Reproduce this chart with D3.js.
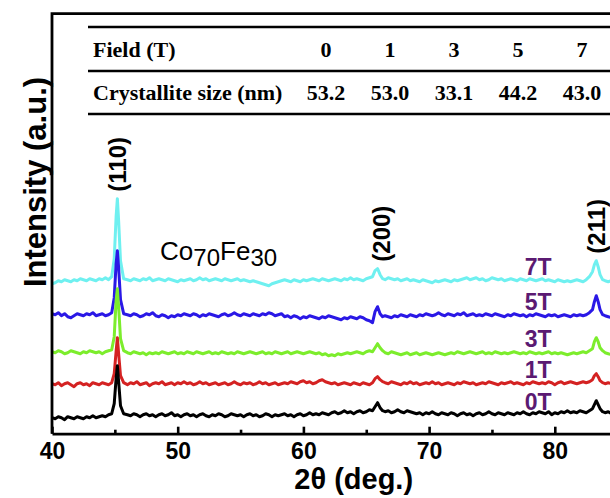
<!DOCTYPE html>
<html>
<head>
<meta charset="utf-8">
<script src="https://cdn.jsdelivr.net/npm/d3@7"></script>
<style>
  body { margin: 0; background: #fff; }
  svg text { font-family: "Liberation Sans", Arial, sans-serif; }
</style>
</head>
<body>
<div class="chart_view"></div>
<script>
// 2theta grid (deg.), denser around the three reflections
var twoTheta = [
  40, 40.25, 40.5, 40.75, 41, 41.25, 41.5, 41.75, 42, 42.25,
  42.5, 42.75, 43, 43.25, 43.5, 43.75, 44, 44.25, 44.5, 44.75,
  44.95, 45.1, 45.2, 45.3, 45.45, 45.7,
  46, 46.25, 46.5, 46.75, 47, 47.25, 47.5, 47.75, 48, 48.25,
  48.5, 48.75, 49, 49.25, 49.5, 49.75, 50, 50.25, 50.5, 50.75,
  51, 51.25, 51.5, 51.75, 52, 52.25, 52.5, 52.75, 53, 53.25,
  53.5, 53.75, 54, 54.25, 54.5, 54.75, 55, 55.25, 55.5, 55.75,
  56, 56.25, 56.5, 56.75, 57, 57.25, 57.5, 57.75, 58, 58.25,
  58.5, 58.75, 59, 59.25, 59.5, 59.75, 60, 60.25, 60.5, 60.75,
  61, 61.25, 61.5, 61.75, 62, 62.25, 62.5, 62.75, 63, 63.25,
  63.5, 63.75, 64, 64.25, 64.5, 64.75, 65, 65.25, 65.5,
  65.7, 65.9, 66.1, 66.3,
  66.5, 66.75, 67, 67.25, 67.5, 67.75, 68, 68.25, 68.5, 68.75,
  69, 69.25, 69.5, 69.75, 70, 70.25, 70.5, 70.75, 71, 71.25,
  71.5, 71.75, 72, 72.25, 72.5, 72.75, 73, 73.25, 73.5, 73.75,
  74, 74.25, 74.5, 74.75, 75, 75.25, 75.5, 75.75, 76, 76.25,
  76.5, 76.75, 77, 77.25, 77.5, 77.75, 78, 78.25, 78.5, 78.75,
  79, 79.25, 79.5, 79.75, 80, 80.25, 80.5, 80.75, 81, 81.25,
  81.5, 81.75, 82, 82.25, 82.5, 82.75, 83,
  83.15, 83.3, 83.45, 83.6, 83.8,
  84, 84.25, 84.5, 84.75, 85
];

var int0T = [
  16, 15, 17, 16, 14, 17, 16, 15, 17, 16,
  15, 17, 16, 18, 16, 17, 18, 17, 19, 20,
  30, 55, 68, 52, 28, 20,
  19, 18, 20, 19, 17, 19, 20, 18, 19, 17,
  19, 20, 18, 19, 21, 18, 19, 17, 19, 20,
  18, 19, 17, 19, 20, 18, 17, 19, 18, 20,
  19, 17, 18, 20, 19, 18, 19, 17, 19, 20,
  18, 19, 17, 18, 20, 19, 17, 19, 18, 19,
  20, 18, 19, 17, 19, 20, 18, 19, 21, 19,
  20, 19, 21, 20, 19, 21, 22, 20, 21, 23,
  21, 22, 20, 22, 23, 21, 22, 24, 23,
  27, 31, 26, 23,
  22, 23, 21, 22, 24, 22, 21, 23, 22, 21,
  20, 21, 19, 21, 20, 22, 20, 19, 21, 20,
  19, 21, 20, 18, 20, 21, 19, 20, 18, 20,
  21, 19, 20, 22, 20, 19, 21, 20, 19, 21,
  20, 19, 21, 20, 22, 20, 19, 21, 20, 22,
  21, 20, 22, 19, 21, 20, 22, 21, 23, 21,
  22, 21, 23, 22, 21, 23, 25,
  29, 33, 29, 25, 22,
  21, 22, 20, 21, 20
];

var int1T = [
  18, 17, 19, 16, 18, 19, 17, 15, 18, 19,
  17, 18, 16, 19, 18, 17, 19, 18, 17, 19,
  28, 50, 64, 48, 26, 19,
  17, 19, 18, 20, 17, 18, 19, 16, 18, 19,
  18, 20, 17, 18, 19, 17, 19, 18, 20, 18,
  19, 17, 18, 20, 18, 19, 17, 18, 19, 17,
  18, 19, 17, 18, 20, 18, 17, 19, 18, 19,
  17, 18, 20, 18, 19, 17, 18, 19, 17, 18,
  19, 18, 20, 19, 18, 20, 21, 19, 20, 18,
  19, 21, 22, 20, 19, 18, 19, 17, 18, 19,
  18, 17, 19, 18, 17, 19, 18, 17, 19,
  23, 25, 22, 20,
  19, 18, 20, 19, 18, 17, 19, 18, 20, 18,
  19, 17, 18, 19, 18, 20, 18, 19, 17, 18,
  19, 18, 17, 19, 18, 20, 19, 18, 19, 17,
  18, 19, 18, 20, 19, 18, 17, 19, 18, 19,
  20, 18, 19, 18, 17, 19, 18, 20, 19, 18,
  19, 18, 20, 19, 17, 19, 20, 18, 19, 20,
  19, 18, 19, 20, 19, 20, 22,
  26, 28, 25, 21, 19,
  18, 19, 18, 20, 19
];

var int3T = [
  19, 18, 20, 19, 17, 18, 20, 19, 18, 17,
  19, 18, 20, 19, 18, 19, 17, 19, 20, 21,
  34, 70, 82, 64, 32, 20,
  18, 17, 19, 18, 17, 18, 16, 18, 17, 18,
  17, 19, 18, 17, 18, 19, 17, 18, 17, 19,
  18, 17, 19, 18, 17, 18, 19, 17, 18, 17,
  19, 18, 17, 18, 17, 19, 18, 17, 18, 19,
  18, 17, 18, 19, 17, 18, 17, 19, 18, 17,
  18, 19, 17, 18, 19, 18, 17, 18, 19, 18,
  17, 18, 16, 17, 15, 16, 15, 17, 16, 17,
  18, 17, 18, 19, 18, 17, 19, 20, 19,
  23, 27, 23, 20,
  18, 17, 19, 18, 17, 16, 17, 18, 16, 17,
  18, 16, 17, 18, 17, 16, 17, 18, 17, 16,
  17, 18, 17, 19, 18, 17, 18, 19, 18, 17,
  18, 19, 17, 18, 17, 19, 18, 17, 18, 17,
  18, 19, 18, 17, 18, 17, 19, 18, 17, 18,
  17, 18, 19, 17, 18, 17, 18, 17, 16, 17,
  18, 17, 18, 19, 18, 20, 22,
  29, 33, 29, 23, 20,
  18, 17, 16, 17, 16
];

var int5T = [
  20, 19, 21, 18, 20, 17, 16, 18, 20, 19,
  18, 20, 19, 21, 18, 19, 20, 18, 19, 21,
  36, 70, 83, 66, 34, 20,
  19, 18, 20, 19, 17, 18, 20, 19, 21, 18,
  17, 19, 18, 16, 18, 17, 19, 18, 20, 19,
  18, 20, 19, 17, 19, 18, 20, 19, 18, 17,
  19, 20, 18, 19, 21, 19, 18, 20, 19, 18,
  20, 19, 18, 20, 19, 21, 20, 18, 19, 20,
  17, 18, 16, 18, 17, 15, 17, 16, 18, 17,
  16, 15, 17, 16, 18, 17, 16, 15, 14, 16,
  15, 17, 16, 15, 17, 16, 14, 13, 11,
  22, 27, 20, 17,
  18, 17, 16, 18, 17, 19, 18, 17, 19, 18,
  17, 19, 18, 20, 19, 18, 19, 21, 19, 18,
  20, 19, 18, 20, 19, 21, 18, 19, 20, 18,
  19, 18, 20, 19, 18, 20, 19, 18, 17, 19,
  18, 20, 19, 18, 19, 17, 19, 18, 20, 19,
  18, 17, 19, 18, 19, 17, 18, 19, 18, 17,
  19, 18, 19, 18, 19, 21, 24,
  32, 38, 32, 24, 19,
  18, 17, 16, 17, 16
];

var int7T = [
  15, 16, 18, 17, 19, 18, 17, 19, 18, 20,
  19, 18, 20, 19, 18, 20, 19, 21, 19, 22,
  40, 82, 100, 78, 38, 20,
  19, 18, 20, 19, 18, 20, 19, 21, 18, 19,
  20, 19, 18, 20, 19, 18, 17, 19, 18, 19,
  20, 18, 19, 21, 19, 20, 18, 19, 20, 19,
  18, 20, 19, 18, 19, 20, 18, 19, 18, 17,
  18, 17, 16, 15, 14, 13, 15, 16, 17, 18,
  19, 18, 17, 19, 18, 17, 19, 18, 19, 20,
  19, 18, 20, 19, 18, 19, 20, 19, 18, 20,
  19, 21, 19, 20, 19, 18, 20, 21, 22,
  28, 30, 24, 20,
  19, 21, 20, 19, 20, 18, 19, 20, 18, 19,
  18, 17, 19, 18, 17, 16, 18, 17, 18, 19,
  18, 17, 19, 18, 19, 20, 21, 19, 20, 21,
  19, 20, 18, 19, 21, 20, 19, 20, 18, 19,
  20, 19, 18, 20, 19, 18, 20, 19, 18, 19,
  20, 18, 19, 18, 17, 19, 18, 17, 18, 17,
  18, 19, 18, 17, 19, 22, 27,
  34, 38, 32, 24, 19,
  18, 17, 18, 17, 16
];

var fieldLabels = ["0T", "1T", "3T", "5T", "7T"];
var offsets = [0, 32, 63, 100, 135];
var colors = ["#000000", "#d42222", "#7ced2c", "#2a18e6", "#6ff0f0"];

var peakNames = ["(110)", "(200)", "(211)"];
var peakAt = [45.2, 66.2, 83.3];

var tableFields = ["0", "1", "3", "5", "7"];
var tableSizes = ["53.2", "53.0", "33.1", "44.2", "43.0"];

var xMajor = [40, 50, 60, 70, 80];
var xMinor = [45, 55, 65, 75, 85];

function render_chart() {
  var selector = ".chart_view";
  var width = 610, height = 498;
  var margin = { top: 13.7, left: 52, bottom: 64.3 };

  var svg = d3.select(selector).append("svg")
    .attr("width", width)
    .attr("height", height);

  var x = d3.scaleLinear().domain([40, 85]).range([margin.left, margin.left + 45 * 12.57]);
  var y = d3.scaleLinear().domain([0, 420]).range([height - margin.bottom, margin.top]);
  var x0 = x.range()[0], x1 = x.range()[1];
  var yb = y.range()[0], yt = y.range()[1];

  svg.append("clipPath").attr("id", "plotclip")
    .append("rect").attr("x", x0).attr("y", yt).attr("width", x1 - x0).attr("height", yb - yt);

  var series = [int0T, int1T, int3T, int5T, int7T];

  // traces, top one drawn first so the lower ones sit over it like in the figure
  var line = d3.line()
    .x(function (d, i) { return x(twoTheta[i]); })
    .y(function (d) { return y(d); });

  var g = svg.append("g").attr("clip-path", "url(#plotclip)");
  d3.range(series.length).reverse().forEach(function (k) {
    var vals = series[k].map(function (v) { return v + offsets[k]; });
    g.append("path")
      .attr("d", line(vals))
      .attr("fill", "none")
      .attr("stroke", colors[k])
      .attr("stroke-width", 3)
      .attr("stroke-linejoin", "round");
  });

  // frame (left + top; right edge falls outside the picture)
  svg.append("path")
    .attr("d", "M" + x1 + "," + yt + "H" + x0 + "V" + yb)
    .attr("fill", "none")
    .attr("stroke", "#000")
    .attr("stroke-width", 2.8);

  // bottom axis, inward ticks
  var ax = svg.append("g").attr("transform", "translate(0," + yb + ")")
    .call(d3.axisBottom(x).tickValues(xMajor).tickSizeInner(-7).tickSizeOuter(0).tickPadding(9));
  ax.select(".domain").attr("stroke-width", 2.8);
  ax.selectAll(".tick line").attr("stroke-width", 2.6);
  ax.selectAll(".tick text")
    .attr("font-size", 23).attr("font-weight", "bold").attr("fill", "#000")
    .style("font-family", "'Liberation Sans', Arial, sans-serif");

  var axm = svg.append("g").attr("transform", "translate(0," + yb + ")")
    .call(d3.axisBottom(x).tickValues(xMinor).tickSizeInner(-4).tickSizeOuter(0).tickFormat(""));
  axm.select(".domain").remove();
  axm.selectAll(".tick line").attr("stroke-width", 2.6);

  // axis titles
  svg.append("text")
    .attr("x", x(64)).attr("y", 489)
    .attr("text-anchor", "middle")
    .attr("font-size", 29).attr("font-weight", "bold")
    .text("2\u03B8 (deg.)");

  svg.append("text")
    .attr("transform", "translate(35,182) rotate(-90)")
    .attr("text-anchor", "middle")
    .attr("dominant-baseline", "central")
    .attr("font-size", 31).attr("font-weight", "bold")
    .text("Intensity (a.u.)");

  // reflection labels, sitting above the top trace
  var top = series.length - 1;
  peakNames.forEach(function (name, j) {
    var near = twoTheta.map(function (t, i) { return Math.abs(t - peakAt[j]) < 0.5 ? series[top][i] : 0; });
    var peakTop = y(d3.max(near) + offsets[top]);
    svg.append("text")
      .attr("transform", "translate(" + x(peakAt[j]) + "," + (peakTop - 7) + ") rotate(-90)")
      .attr("text-anchor", "start")
      .attr("dominant-baseline", "central")
      .attr("font-size", 24).attr("font-weight", "bold")
      .text(name);
  });

  // sample label
  var comp = svg.append("text")
    .attr("x", x(48.6)).attr("y", 260)
    .attr("font-size", 26);
  comp.append("tspan").text("Co");
  comp.append("tspan").attr("dy", 6).attr("font-size", 24).text("70");
  comp.append("tspan").attr("dy", -6).text("Fe");
  comp.append("tspan").attr("dy", 6).attr("font-size", 24).text("30");

  // field labels next to each trace
  fieldLabels.forEach(function (lab, k) {
    svg.append("text")
      .attr("x", x(77.6))
      .attr("y", y(18 + offsets[k]) - 6)
      .attr("font-size", 23).attr("font-weight", "bold")
      .attr("fill", "#5b1a72")
      .text(lab);
  });

  // inset table
  var col = d3.scalePoint().domain(tableFields).range([326, 582]);
  var tbl = svg.append("g");
  [27, 71, 114].forEach(function (ly) {
    tbl.append("line")
      .attr("x1", 88).attr("x2", width + 10)
      .attr("y1", ly).attr("y2", ly)
      .attr("stroke", "#000").attr("stroke-width", 2.6);
  });
  var rows = [
    { head: "Field (T)", vals: tableFields, base: 57 },
    { head: "Crystallite size (nm)", vals: tableSizes, base: 100 }
  ];
  rows.forEach(function (r) {
    tbl.append("text")
      .attr("x", 93).attr("y", r.base)
      .attr("font-size", 22).attr("font-weight", "bold")
      .style("font-family", "'Liberation Serif', 'Times New Roman', serif")
      .text(r.head);
    r.vals.forEach(function (v, i) {
      tbl.append("text")
        .attr("x", col(tableFields[i])).attr("y", r.base)
        .attr("text-anchor", "middle")
        .attr("font-size", 22).attr("font-weight", "bold")
        .style("font-family", "'Liberation Serif', 'Times New Roman', serif")
        .text(v);
    });
  });
}

render_chart();
</script>
</body>
</html>
